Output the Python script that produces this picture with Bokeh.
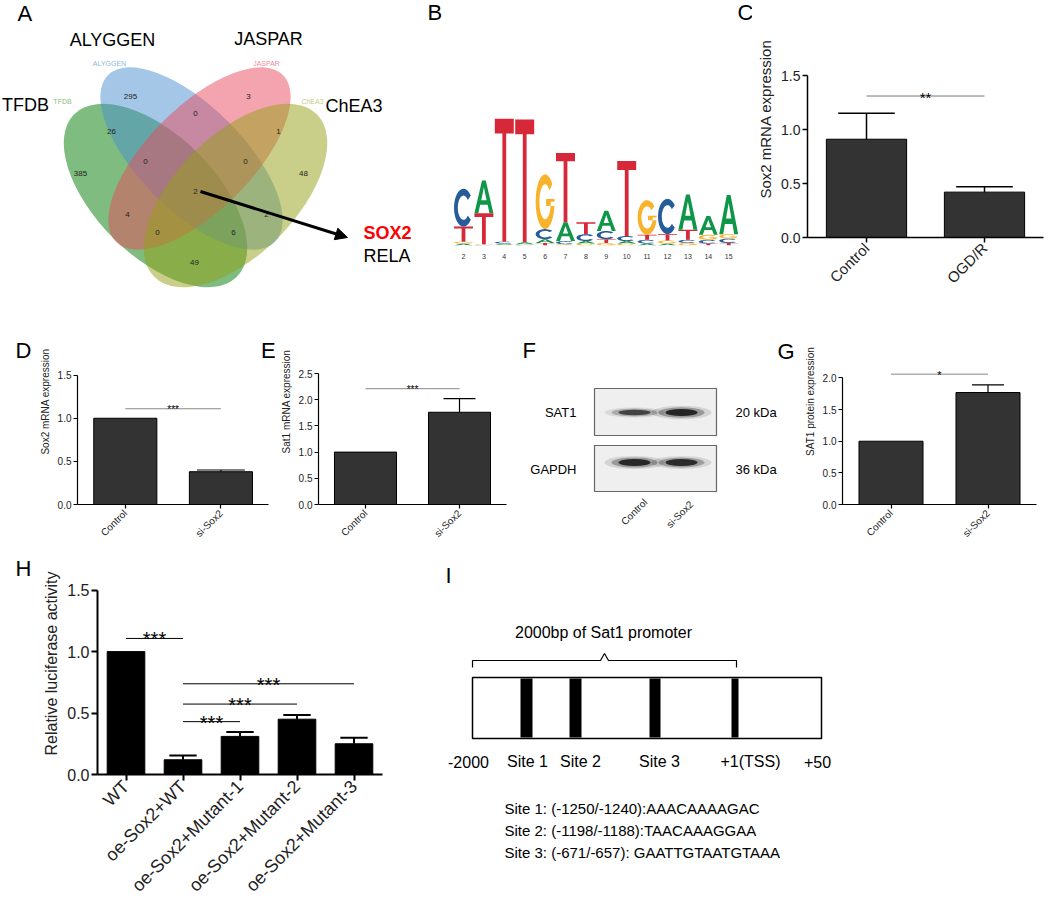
import math
import numpy as np
from bokeh.plotting import figure
from bokeh.models import (Range1d, FixedTicker, PrintfTickFormatter,
                          Arrow, NormalHead, ColumnDataSource)
from bokeh.layouts import row, column
from bokeh.embed import file_html
from bokeh.resources import INLINE
from bokeh.core.properties import value

FONT = "Liberation Sans"

# ---------------- data ----------------
# A: Venn diagram
venn_sets = ["TFDB", "ALYGGEN", "JASPAR", "ChEA3"]
venn_set_colors = ["#007a00", "#4a8fd0", "#ea4a5e", "#939f14"]
venn_counts = [295, 3, 0, 26, 1, 385, 0, 0, 48, 2, 4, 2, 0, 6, 49]
venn_hits = ["SOX2", "RELA"]

# B: sequence logo (bits per letter)
logo_pos = list(range(2, 16))
logo_A = [0.03, 0.52, 0.02, 0.03, 0.06, 0.30, 0.04, 0.32, 0.04, 0.03, 0.03, 0.56, 0.30, 0.62]
logo_C = [0.60, 0.01, 0.03, 0.01, 0.16, 0.05, 0.11, 0.13, 0.08, 0.06, 0.56, 0.05, 0.06, 0.07]
logo_G = [0.03, 0.01, 0.01, 0.01, 0.87, 0.02, 0.03, 0.04, 0.03, 0.55, 0.05, 0.04, 0.08, 0.07]
logo_T = [0.24, 0.49, 1.95, 1.95, 0.04, 1.10, 0.19, 0.06, 1.19, 0.08, 0.10, 0.16, 0.03, 0.04]

# C
c_cats = ["Control", "OGD/R"]
c_vals = [0.91, 0.42]
c_errs = [0.24, 0.05]
c_sigs = [(0, 1, 1.31, "**")]
# D
d_cats = ["Control", "si-Sox2"]
d_vals = [1.0, 0.38]
d_errs = [0.0, 0.02]
d_sigs = [(0, 1, 1.11, "***")]
# E
e_cats = ["Control", "si-Sox2"]
e_vals = [1.0, 1.76]
e_errs = [0.0, 0.26]
e_sigs = [(0, 1, 2.21, "***")]
# F: western blot
blot_lanes = ["Control", "si-Sox2"]
blot_proteins = ["SAT1", "GAPDH"]
blot_kda = ["20 kDa", "36 kDa"]
sat1_intensity = [0.55, 1.0]
gapdh_intensity = [0.95, 0.9]
# G
g_cats = ["Control", "si-Sox2"]
g_vals = [1.0, 1.77]
g_errs = [0.0, 0.12]
g_sigs = [(0, 1, 2.06, "*")]
# H
h_cats = ["WT", "oe-Sox2+WT", "oe-Sox2+Mutant-1", "oe-Sox2+Mutant-2", "oe-Sox2+Mutant-3"]
h_vals = [1.0, 0.12, 0.31, 0.45, 0.25]
h_errs = [0.0, 0.035, 0.035, 0.035, 0.05]
h_sigs = [(0, 1, 1.107, "***"), (1, 2, 0.43, "***"), (1, 3, 0.573, "***"), (1, 4, 0.738, "***")]
# I
promoter_title = "2000bp of Sat1 promoter"
promoter_marks = ["-2000", "Site 1", "Site 2", "Site 3", "+1(TSS)", "+50"]
site_lines = ["Site 1: (-1250/-1240):AAACAAAAGAC",
              "Site 2: (-1198/-1188):TAACAAAGGAA",
              "Site 3: (-671/-657): GAATTGTAATGTAAA"]


# ---------------- helpers ----------------
def canvas(x0, x1, y0, y1):
    p = figure(frame_width=x1 - x0, frame_height=y1 - y0,
               x_range=Range1d(x0, x1), y_range=Range1d(y1, y0),
               output_backend="svg", toolbar_location=None,
               min_border_left=0, min_border_right=0, min_border_top=0, min_border_bottom=0)
    p.xaxis.visible = False
    p.yaxis.visible = False
    p.grid.visible = False
    p.outline_line_color = None
    return p


def txt(p, x, y, s, size, color="black", align="left", baseline="middle", style="normal", angle=0.0):
    p.text(x=[x], y=[y], text=[s], text_font=value(FONT), text_font_size=f"{size}px",
           text_color=color, text_align=align, text_baseline=baseline,
           text_font_style=style, angle=angle)


def chart(fx0, fx1, fl, fr, ry0, ry1, y0px, ytpx, yticks, cats, vals, errs, sigs, ylabel,
          fs_tick, fs_lab, fs_x, fs_sig, bar_w, cap_hw, bar_color, sig_color, aw, tl, letters,
          frame_r=None):
    n = len(cats)
    s = yticks[-1] / float(y0px - ytpx)
    u = (fr - fl) / float(n)
    if frame_r is None:
        frame_r = fr
    p = figure(width=fx1 - fx0, height=ry1 - ry0,
               x_range=Range1d(-0.5, -0.5 + (frame_r - fl) / u),
               y_range=Range1d(0, (y0px - ry0) * s),
               output_backend="svg", toolbar_location=None,
               min_border_left=fl - fx0, min_border_right=fx1 - frame_r,
               min_border_top=0, min_border_bottom=ry1 - y0px)
    p.grid.visible = False
    p.outline_line_color = None
    xc = list(range(n))
    p.vbar(x=xc, top=vals, width=bar_w, fill_color=bar_color, line_color="black", line_width=1)
    ex = [x for x, e in zip(xc, errs) if e > 0]
    ev = [v for v, e in zip(vals, errs) if e > 0]
    et = [v + e for v, e in zip(vals, errs) if e > 0]
    if ex:
        p.segment(x0=ex, x1=ex, y0=ev, y1=et, line_color="black", line_width=aw)
        p.segment(x0=[x - cap_hw for x in ex], x1=[x + cap_hw for x in ex], y0=et, y1=et,
                  line_color="black", line_width=aw)
    for i0, i1, yv, lab in sigs:
        p.segment(x0=[xc[i0]], x1=[xc[i1]], y0=[yv], y1=[yv], line_color=sig_color, line_width=1)
        p.text(x=[(xc[i0] + xc[i1]) / 2.0], y=[yv], text=[lab], text_align="center",
               text_baseline="alphabetic", text_font=value(FONT), text_font_size=f"{fs_sig}px",
               text_color="black", y_offset=1)
    ya = p.yaxis[0]
    ya.ticker = FixedTicker(ticks=yticks)
    ya.bounds = (0, yticks[-1])
    ya.formatter = PrintfTickFormatter(format="%.1f")
    ya.minor_tick_out = 0
    ya.minor_tick_in = 0
    ya.major_tick_in = 0
    ya.major_tick_out = tl
    ya.major_label_standoff = 2
    ya.axis_label = ylabel
    ya.axis_label_standoff = 4
    ya.axis_label_text_font = FONT
    ya.axis_label_text_font_style = "normal"
    ya.axis_label_text_font_size = f"{fs_lab}px"
    ya.axis_label_text_color = "#222222"
    xa = p.xaxis[0]
    xa.ticker = FixedTicker(ticks=xc)
    xa.major_label_overrides = {i: c for i, c in zip(xc, cats)}
    xa.bounds = (-0.5, n - 0.5)
    xa.minor_tick_out = 0
    xa.minor_tick_in = 0
    xa.major_label_orientation = math.pi / 4
    xa.major_label_standoff = 3
    xa.major_tick_in = 0
    xa.major_tick_out = tl
    for ax in (xa, ya):
        ax.axis_line_width = aw
        ax.major_tick_line_width = aw
        ax.axis_line_color = "black"
        ax.major_tick_line_color = "black"
        ax.major_label_text_font = FONT
        ax.major_label_text_color = "#222222"
    ya.major_label_text_font_size = f"{fs_tick}px"
    xa.major_label_text_font_size = f"{fs_x}px"
    for L, px, py in letters:
        p.text(x=[(px - fl) / u - 0.5], y=[(y0px - py) * s], text=[L], text_font=value(FONT),
               text_font_size="22px", text_align="left", text_baseline="middle")
    return p


# ---------------- A: Venn ----------------
pA = canvas(0, 445, 0, 298)
vsrc = ColumnDataSource(dict(x=[155, 191, 199, 235], y=[195, 158, 158, 195],
                             w=[230, 236, 236, 230], h=[120, 104, 104, 120],
                             a=[-45, -45, 45, 45], c=venn_set_colors))
pA.ellipse(x="x", y="y", width="w", height="h", angle="a", angle_units="deg",
           fill_color="c", fill_alpha=0.5, line_color=None, source=vsrc)
venn_xy = [(130, 96), (248, 96), (195, 113), (111, 131), (278, 131), (80, 173), (145, 161),
           (245, 161), (303, 173), (195, 191), (127, 214), (266, 214), (157, 232), (233, 232),
           (194, 262)]
pA.text(x=[q[0] for q in venn_xy], y=[q[1] for q in venn_xy], text=[str(v) for v in venn_counts],
        text_font=value(FONT), text_font_size="8px", text_color="#222222",
        text_align="center", text_baseline="middle")
big_xy = [(25, 104, "center"), (112, 39, "center"), (268, 38, "center"), (325, 105, "left")]
small_xy = [(62, 101), (109, 63), (266, 63), (312, 101)]
small_cols = ["#8cc080", "#8ab8e0", "#f08a98", "#c8cc80"]
for name, (bx, by, al), (sx, sy), sc in zip(venn_sets, big_xy, small_xy, small_cols):
    txt(pA, bx, by, name, 18, align=al)
    txt(pA, sx, sy, name, 7, color=sc, align="center")
pA.add_layout(Arrow(x_start=200, y_start=191, x_end=347, y_end=237, line_width=3,
                    line_color="black",
                    end=NormalHead(size=12, fill_color="black", line_color="black")))
txt(pA, 363, 232, venn_hits[0], 18, color="#ff0000", style="bold")
txt(pA, 363, 255, venn_hits[1], 18)
txt(pA, 17, 13, "A", 22)
txt(pA, 427, 12, "B", 22)

# ---------------- B: logo ----------------
fl_B, fr_B, step_B, base_B, bitpx = 445, 752, 20.4, 245, 63.0
xs0 = 2 - (463 - fl_B) / step_B
pB = figure(frame_width=fr_B - fl_B, frame_height=base_B,
            x_range=Range1d(xs0, xs0 + (fr_B - fl_B) / step_B),
            y_range=Range1d(0, base_B / bitpx),
            output_backend="svg", toolbar_location=None,
            min_border_left=0, min_border_right=0, min_border_top=0,
            min_border_bottom=298 - base_B)
pB.grid.visible = False
pB.outline_line_color = None
pB.yaxis.visible = False
pB.xaxis.ticker = FixedTicker(ticks=logo_pos)
pB.xaxis.axis_line_color = None
pB.xaxis.major_tick_line_color = None
pB.xaxis.minor_tick_line_color = None
pB.xaxis.major_label_text_font_size = "7px"
pB.xaxis.major_label_text_font = FONT
pB.xaxis.major_label_text_color = "#333333"
pB.xaxis.major_label_standoff = 2


def arc(cx, cy, rx, ry, a0, a1, k=28):
    t = np.radians(np.linspace(a0, a1, k))
    return list(cx + rx * np.cos(t)), list(cy + ry * np.sin(t))


def letter_polys(L):
    if L == "T":
        return [[([0.4, 0.6, 0.6, 1, 1, 0, 0, 0.4], [0, 0, 0.88, 0.88, 1, 1, 0.88, 0.88])]]
    if L == "A":
        outer = ([0, 0.21, 0.3, 0.7, 0.79, 1, 0.6, 0.4], [0, 0, 0.26, 0.26, 0, 0, 1, 1])
        hole = ([0.36, 0.64, 0.5], [0.4, 0.4, 0.8])
        return [[outer, hole]]
    if L == "C":
        ox, oy = arc(0.5, 0.5, 0.5, 0.5, 40, 320)
        ix, iy = arc(0.5, 0.5, 0.3, 0.32, 320, 40)
        return [[(ox + ix, oy + iy)]]
    ox, oy = arc(0.5, 0.5, 0.5, 0.5, 40, 360)
    ix, iy = arc(0.5, 0.5, 0.3, 0.32, 360, 40)
    return [[(ox + ix, oy + iy)], [([0.55, 1, 1, 0.55], [0.42, 0.42, 0.55, 0.55])]]


logo_colors = {"A": "#109648", "C": "#255c99", "G": "#f7b32b", "T": "#d62839"}
LX, LY, LC = [], [], []
heights = {"A": logo_A, "C": logo_C, "G": logo_G, "T": logo_T}
lw = 0.93
for i, pos in enumerate(logo_pos):
    stack = sorted(((heights[k][i], k) for k in "ACGT"))
    y0 = 0.0
    for h, k in stack:
        gx, gy = [], []
        for poly in letter_polys(k):
            rx, ry = [], []
            for (ux, uy) in poly:
                rx.append([pos - lw / 2 + a * lw for a in ux])
                ry.append([y0 + b * h for b in uy])
            gx.append(rx)
            gy.append(ry)
        LX.append(gx)
        LY.append(gy)
        LC.append(logo_colors[k])
        y0 += h
pB.multi_polygons(xs=LX, ys=LY, fill_color=LC, line_color=None)
pB.text(x=[xs0 + (737 - fl_B) / step_B], y=[(base_B - 12) / bitpx], text=["C"],
        text_font=value(FONT), text_font_size="22px", text_baseline="middle")

# ---------------- C ----------------
pC = chart(752, 1050, 807, 1043, 0, 298, 237, 75, [0, 0.5, 1.0, 1.5], c_cats, c_vals, c_errs,
           c_sigs, "Sox2 mRNA expression", 14, 15, 15, 15, 0.68, 0.24, "#333333", "#777777",
           1.5, 5, [])

# ---------------- D, E ----------------
pDl = canvas(0, 36, 298, 552)
txt(pDl, 15, 350, "D", 22)
pD = chart(36, 277, 72, 268, 298, 552, 505, 375, [0, 0.5, 1.0, 1.5], d_cats, d_vals, d_errs,
           d_sigs, "Sox2 mRNA expression", 10, 10, 10, 10, 0.66, 0.25, "#333333", "#888888",
           1.2, 4, [("E", 260, 350)], frame_r=277)
pE = chart(277, 512, 310, 506, 298, 552, 504, 373, [0, 0.5, 1.0, 1.5, 2.0, 2.5], e_cats, e_vals,
           e_errs, e_sigs, "Sat1 mRNA expression", 10, 10, 10, 10, 0.66, 0.17, "#333333",
           "#888888", 1.2, 4, [])

# ---------------- F: blot ----------------
pF = canvas(512, 798, 298, 552)
txt(pF, 522, 350, "F", 22)
txt(pF, 777, 351, "G", 22)
pF.quad(left=[594, 594], right=[716, 716], top=[388, 445], bottom=[435, 491],
        fill_color="#efefef", line_color="#666666", line_width=1.2)
lane_x = [634, 681]
for yb, inten in zip([412, 462], [sat1_intensity, gapdh_intensity]):
    for lx, it in zip(lane_x, inten):
        for sc, al in [(1.5, 0.12), (1.15, 0.3), (0.8, 0.85)]:
            pF.ellipse(x=[lx], y=[yb], width=[40 * sc], height=[(4 + 5 * it) * sc],
                       fill_color="#111111", fill_alpha=al * (0.55 + 0.45 * it), line_color=None)
for name, kd, yy in zip(blot_proteins, blot_kda, [412, 469]):
    txt(pF, 576, yy, name, 13, align="right")
    txt(pF, 735, yy, kd, 13)
for lab, lx, ly in zip(blot_lanes, [645, 691], [500, 502]):
    txt(pF, lx, ly, lab, 10, align="right", angle=math.pi / 4, color="#222222")

# ---------------- G ----------------
pG = chart(798, 1050, 842, 1036, 298, 552, 508, 379, [0, 0.5, 1.0, 1.5, 2.0], g_cats, g_vals,
           g_errs, g_sigs, "SAT1 protein expression", 10, 10, 10, 11, 0.66, 0.165, "#333333",
           "#888888", 1.2, 4, [])

# ---------------- H ----------------
pHl = canvas(0, 40, 552, 905)
txt(pHl, 15, 568, "H", 22)
pH = chart(40, 440, 94, 382, 552, 905, 782, 591, [0, 0.5, 1.0, 1.5], h_cats, h_vals, h_errs,
           h_sigs, "Relative luciferase activity", 16, 16, 18, 20, 0.66, 0.24, "#000000",
           "#000000", 2, 6, [])

# ---------------- I: promoter schematic ----------------
pI = canvas(440, 1050, 552, 905)
txt(pI, 445, 575, "I", 22)
txt(pI, 603, 632, promoter_title, 16, align="center")
pI.line(x=[472, 472, 600, 604, 608, 736, 736], y=[667, 660, 660, 653, 660, 660, 667],
        line_color="black", line_width=1.2)
pI.quad(left=[472], right=[821], top=[677], bottom=[738], fill_color="white",
        line_color="black", line_width=1.5)
pI.quad(left=[520, 569, 649, 731], right=[532, 581, 660, 738], top=[678] * 4, bottom=[737] * 4,
        fill_color="black", line_color=None)
mark_x = [468, 527, 580, 659, 750, 817]
for lab, mx in zip(promoter_marks, mark_x):
    txt(pI, mx, 761, lab, 16, align="center")
for k, line in enumerate(site_lines):
    txt(pI, 504, 808 + 22 * k, line, 15)

layout = column(row(pA, pB, pC), row(pDl, pD, pE, pF, pG), row(pHl, pH, pI))
open("out.html", "w").write(file_html(layout, INLINE))
